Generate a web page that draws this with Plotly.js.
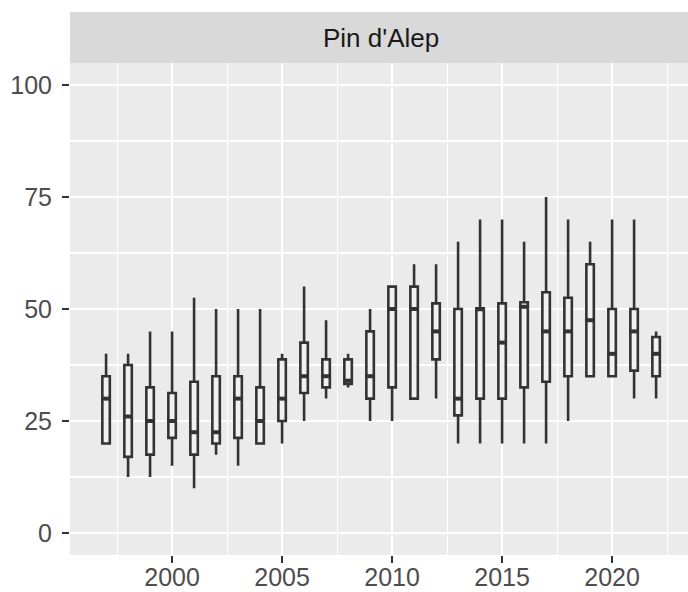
<!DOCTYPE html>
<html>
<head>
<meta charset="utf-8">
<script src="https://cdn.plot.ly/plotly-3.0.1.min.js"></script>
<style>html,body{margin:0;padding:0;background:#fff;}#chart{width:688px;height:592px;}</style>
</head>
<body>
<div id="chart"></div>
<script>
const years      = [1997,1998,1999,2000,2001,2002,2003,2004,2005,2006,2007,2008,2009,2010,2011,2012,2013,2014,2015,2016,2017,2018,2019,2020,2021,2022];
const lowerWhisk = [20, 12.5, 12.5, 15, 10, 17.5, 15, 20, 20, 25, 30, 32.5, 25, 25, 30, 30, 20, 20, 20, 20, 20, 25, 35, 35, 30, 30];
const q1Vals     = [20, 17, 17.5, 21.25, 17.5, 20, 21.25, 20, 25, 31.25, 32.5, 33.3, 30, 32.5, 30, 38.75, 26.25, 30, 30, 32.5, 33.75, 35, 35, 35, 36.25, 35];
const medianVals = [30, 26, 25, 25, 22.5, 22.5, 30, 25, 30, 35, 35, 34, 35, 50, 50, 45, 30, 50, 42.5, 50.5, 45, 45, 47.5, 40, 45, 40];
const q3Vals     = [35, 37.5, 32.5, 31.25, 33.75, 35, 35, 32.5, 38.75, 42.5, 38.75, 38.75, 45, 55, 55, 51.25, 50, 50, 51.25, 51.5, 53.75, 52.5, 60, 50, 50, 43.75];
const upperWhisk = [40, 40, 45, 45, 52.5, 50, 50, 50, 40, 55, 47.5, 40, 50, 55, 60, 60, 65, 70, 70, 65, 75, 70, 65, 70, 70, 45];
const panelTitle = "Pin d'Alep";
const xTickVals  = [2000, 2005, 2010, 2015, 2020];
const yTickVals  = [0, 25, 50, 75, 100];

const boxTrace = {
  type: 'box',
  x: years,
  q1: q1Vals,
  median: medianVals,
  q3: q3Vals,
  lowerfence: lowerWhisk,
  upperfence: upperWhisk,
  width: 0.34,
  whiskerwidth: 0,
  fillcolor: '#f1f1f1',
  line: {color: '#333333', width: 2.6},
  boxpoints: false,
  hoverinfo: 'skip',
  showlegend: false
};

const medianTrace = {
  type: 'scatter',
  mode: 'markers',
  x: years,
  y: medianVals,
  marker: {symbol: 'line-ew', size: 7, line: {color: '#333333', width: 4}},
  hoverinfo: 'skip',
  showlegend: false
};

const layout = {
  width: 688, height: 592,
  margin: {l: 70, r: 0, t: 63, b: 37, pad: 0},
  paper_bgcolor: '#ffffff',
  plot_bgcolor: '#ebebeb',
  font: {family: 'Liberation Sans, Arial, sans-serif', size: 25, color: '#4d4d4d'},
  xaxis: {
    range: [1995.36, 2023.45],
    tickvals: xTickVals,
    ticktext: xTickVals.map(String),
    ticks: 'outside', ticklen: 7, tickwidth: 2.2, tickcolor: '#333333',
    ticklabelstandoff: -7,
    showgrid: true, gridcolor: '#ffffff', gridwidth: 2.2,
    minor: {dtick: 2.5, tick0: 2000, showgrid: true, gridcolor: '#ffffff', gridwidth: 1.1, ticks: ''},
    zeroline: false, showline: false,
    tickfont: {size: 25, color: '#4d4d4d'}
  },
  yaxis: {
    range: [-4.9, 104.9],
    tickvals: yTickVals,
    ticktext: yTickVals.map(String),
    ticks: 'outside', ticklen: 7, tickwidth: 2.2, tickcolor: '#333333',
    ticklabelstandoff: 5,
    showgrid: true, gridcolor: '#ffffff', gridwidth: 2.2,
    minor: {dtick: 12.5, tick0: 0, showgrid: true, gridcolor: '#ffffff', gridwidth: 1.1, ticks: ''},
    zeroline: false, showline: false,
    tickfont: {size: 25, color: '#4d4d4d'}
  },
  shapes: [{
    type: 'rect', xref: 'paper', yref: 'paper',
    x0: 0, x1: 1.02, y0: 1, y1: 1 + 51/492,
    fillcolor: '#d9d9d9', line: {width: 0}, layer: 'below'
  }],
  annotations: [{
    xref: 'paper', yref: 'paper',
    x: 0.503, y: 1 + 25.5/492, xanchor: 'center', yanchor: 'middle',
    text: panelTitle, showarrow: false,
    font: {size: 26, color: '#1a1a1a'}
  }]
};

Plotly.newPlot('chart', [boxTrace, medianTrace], layout, {displayModeBar: false, staticPlot: true});
</script>
</body>
</html>
